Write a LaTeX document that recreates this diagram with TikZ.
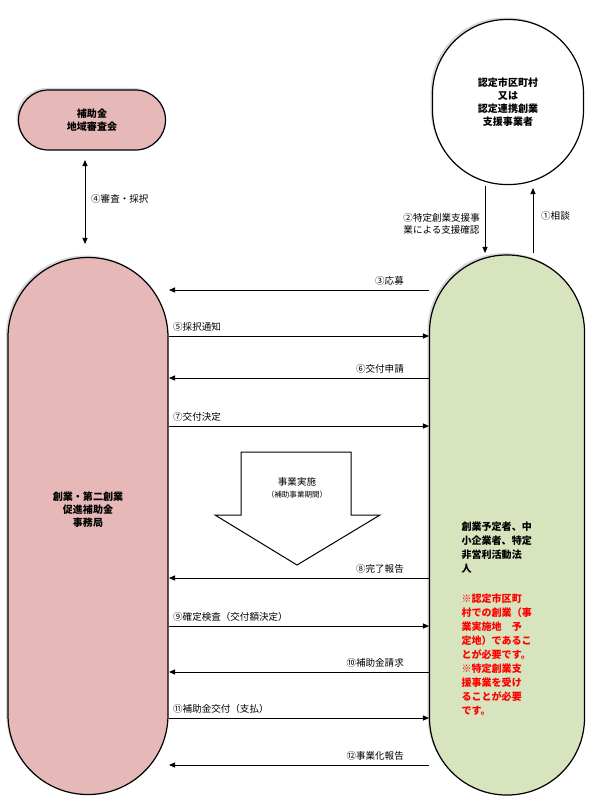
\documentclass[tikz,border=0pt]{standalone}
\usepackage{fontspec}
\setmainfont{Noto Sans CJK JP}
\usetikzlibrary{arrows.meta,shadows}
\definecolor{pinkbox}{HTML}{E6B9B8}
\definecolor{greenbox}{HTML}{D7E4BD}
\tikzset{
  pill/.style={draw, line width=1.2pt, align=center, font=\bfseries\fontsize{10}{13}\selectfont,
    drop shadow={shadow xshift=-2pt, shadow yshift=2pt, fill=gray!60}},
  flow/.style={-{Triangle[length=6pt,width=5pt]}, line width=0.9pt},
  lbl/.style={font=\fontsize{9.5}{12}\selectfont, inner sep=1pt}
}
\begin{document}
\begin{tikzpicture}[x=0.035cm, y=-0.035cm]
		\useasboundingbox (0,0) rectangle (604,810);
		%boxes
		\node[pill, fill=pinkbox, minimum width=147*0.035cm, minimum height=60*0.035cm, rounded corners=1.05cm] (council) at (92,120) {補助金\\地域審査会};
		\node[pill, fill=white, minimum width=151*0.035cm, minimum height=165*0.035cm, rounded corners=2.6cm] (city) at (508,102) {認定市区町村\\又は\\認定連携創業\\支援事業者};
		\node[pill, fill=pinkbox, minimum width=160*0.035cm, minimum height=537*0.035cm, rounded corners=2.79cm] (office) at (88,526) {};
		\node[font=\bfseries\fontsize{10}{13}\selectfont, align=center] (officetxt) at (88,510) {創業・第二創業\\促進補助金\\事務局};
		\node[pill, fill=greenbox, minimum width=155*0.035cm, minimum height=540*0.035cm, rounded corners=2.7cm] (firm) at (507,525) {};
		\node[font=\bfseries\fontsize{10}{14}\selectfont, align=left, anchor=north west] (firmtxt) at (458,518) {創業予定者、中\\小企業者、特定\\非営利活動法\\人};
		\node[font=\bfseries\fontsize{10}{14}\selectfont, align=left, anchor=north west, text=red] (note) at (458,590) {※認定市区町\\村での創業（事\\業実施地　予\\定地）であるこ\\とが必要です。\\※特定創業支\\援事業を受け\\ることが必要\\です。};
		
		%vertical arrows
		\coordinate (c4a) at (85,160); \coordinate (c4b) at (85,244);
		\draw[flow, {Triangle[length=6pt,width=5pt]}-{Triangle[length=6pt,width=5pt]}] (c4a) -- (c4b);
		\node[lbl, anchor=west] (l4) at (90,199) {④審査・採択};
		\coordinate (c2a) at (485,186); \coordinate (c2b) at (485,253);
		\draw[flow] (c2a) -- (c2b);
		\node[lbl, align=left, anchor=east] (l2) at (481,224) {②特定創業支援事\\業による支援確認};
		\coordinate (c1a) at (533,253); \coordinate (c1b) at (533,188);
		\draw[flow] (c1a) -- (c1b);
		\node[lbl, anchor=west] (l1) at (540,216) {①相談};
		
		%horizontal arrows
		\foreach \y/\t/\d in {290/③応募/l, 336/⑤採択通知/r, 378/⑥交付申請/l, 426/⑦交付決定/r,
			578/⑧完了報告/l, 626/⑨確定検査（交付額決定）/r, 672/⑩補助金請求/l,
			718/⑪補助金交付（支払）/r, 765/⑫事業化報告/l}{
			\coordinate (L\y) at (169,\y);
			\coordinate (R\y) at (429,\y);
			\if\d l
				\draw[flow] (R\y) -- (L\y);
				\node[lbl, anchor=south east] at (405,\y-3) {\t};
			\else
				\draw[flow] (L\y) -- (R\y);
				\node[lbl, anchor=south west] at (172,\y-3) {\t};
			\fi
		}
		
		%implementation arrow
		\draw[line width=1pt, fill=white] (241,452) -- (351,452) -- (351,515) -- (380,515)
			-- (297,565) -- (215,515) -- (241,515) -- cycle;
		\node[align=center, font=\fontsize{9.5}{12}\selectfont] (exectxt) at (297,488) {事業実施\\{\fontsize{7.5}{10}\selectfont（補助事業期間）}};
		\end{tikzpicture}
\end{document}
